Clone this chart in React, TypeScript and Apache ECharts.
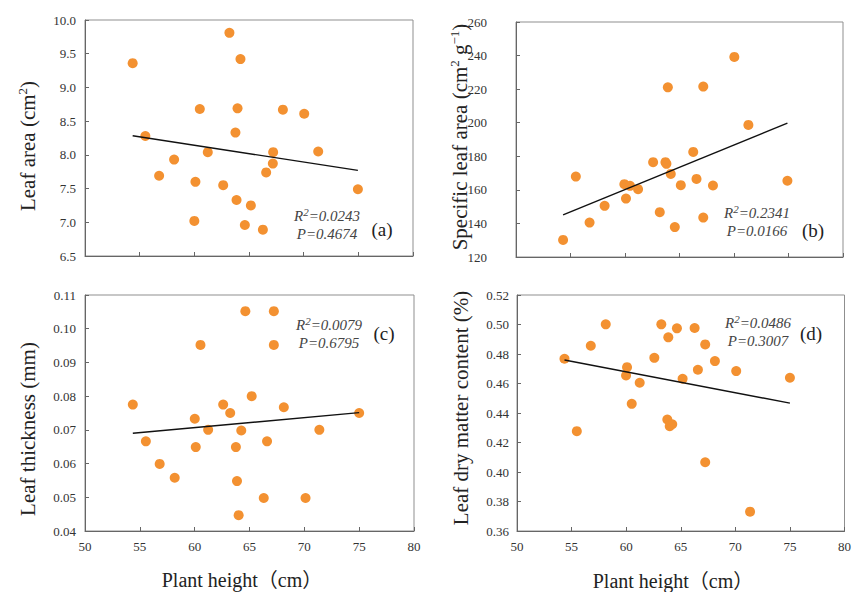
import React, { useEffect, useRef } from "react";
import * as echarts from "echarts";

// Plant height (cm) for each panel
const heightA = [54.36, 55.52, 56.78, 58.15, 60.1, 60.0, 60.5, 61.23, 62.64, 63.21, 63.76, 63.95, 63.86, 64.22, 64.62, 65.17, 66.27, 66.57, 67.18, 67.21, 68.1, 70.05, 71.33, 74.96];
const leafArea = [9.36, 8.28, 7.69, 7.93, 7.6, 7.02, 8.68, 8.04, 7.55, 9.81, 8.33, 8.69, 7.33, 9.42, 6.96, 7.25, 6.89, 7.74, 7.87, 8.04, 8.67, 8.61, 8.05, 7.49];

const heightB = [54.32, 55.49, 56.75, 58.13, 59.94, 60.09, 60.46, 61.2, 62.58, 63.19, 63.71, 63.8, 63.93, 64.2, 64.57, 65.12, 66.26, 66.56, 67.18, 67.18, 68.07, 70.03, 71.32, 74.9];
const specificLeafArea = [130.2, 167.9, 140.5, 150.5, 163.4, 154.8, 162.4, 160.4, 176.5, 146.7, 176.5, 175.5, 221.1, 169.5, 137.8, 162.8, 182.6, 166.5, 221.5, 143.5, 162.6, 239.2, 198.7, 165.4];

const heightC = [54.36, 55.55, 56.81, 58.18, 60.01, 60.1, 60.53, 61.23, 62.6, 63.24, 63.76, 63.86, 64.01, 64.25, 64.62, 65.2, 66.3, 66.6, 67.22, 67.22, 68.13, 70.11, 71.37, 75.0];
const leafThickness = [0.0775, 0.0666, 0.0599, 0.0558, 0.0733, 0.0649, 0.0952, 0.07, 0.0775, 0.075, 0.0649, 0.0548, 0.0447, 0.0698, 0.1052, 0.08, 0.0498, 0.0666, 0.1052, 0.0952, 0.0767, 0.0498, 0.07, 0.075];

const heightD = [54.35, 55.48, 56.76, 58.13, 59.99, 60.08, 60.51, 61.24, 62.58, 63.22, 63.77, 63.86, 63.99, 64.22, 64.65, 65.17, 66.27, 66.57, 67.24, 67.24, 68.13, 70.08, 71.35, 75.0];
const dryMatter = [0.4768, 0.4277, 0.4856, 0.5001, 0.4655, 0.4711, 0.4462, 0.4605, 0.4774, 0.5001, 0.4356, 0.4913, 0.4311, 0.4324, 0.4974, 0.4632, 0.4976, 0.4693, 0.4865, 0.4066, 0.4752, 0.4684, 0.3731, 0.4639];

// Regression line end points [x, y]
const trendA = [[54.36, 8.284], [74.96, 7.77]];
const trendB = [[54.32, 145.1], [74.9, 199.7]];
const trendC = [[54.36, 0.069], [75.0, 0.0751]];
const trendD = [[54.35, 0.4759], [75.0, 0.4467]];

const stats = [
  { r2: "0.0243", p: "0.4674", tag: "(a)" },
  { r2: "0.2341", p: "0.0166", tag: "(b)" },
  { r2: "0.0079", p: "0.6795", tag: "(c)" },
  { r2: "0.0486", p: "0.3007", tag: "(d)" },
];

const yNames = [
  "Leaf area (cm{s|2})",
  "Specific leaf area (cm{s|2} g{s|\u22121})",
  "Leaf thickness (mm)",
  "Leaf dry matter content (%)",
];
const xName = "Plant height\uff08cm\uff09";

const SERIF = "'Liberation Serif', 'Times New Roman', 'Noto Sans CJK SC', serif";

export default function App() {
  const ref = useRef<HTMLDivElement>(null);

  useEffect(() => {
    if (!ref.current) return;
    const chart = echarts.init(ref.current, null, { renderer: "svg" });

    const grids = [
      { left: 85, top: 20, width: 328, height: 236 },
      { left: 516, top: 22, width: 327, height: 235 },
      { left: 85, top: 295, width: 329, height: 236 },
      { left: 517, top: 295, width: 328, height: 236 },
    ].map((g) => ({ ...g, show: true, borderColor: "#8f8f8f", borderWidth: 1, containLabel: false }));

    const yRanges = [
      { min: 6.5, max: 10, interval: 0.5, dec: 1, margin: 9 },
      { min: 120, max: 260, interval: 20, dec: 0, margin: 29 },
      { min: 0.04, max: 0.11, interval: 0.01, dec: 2, margin: 9 },
      { min: 0.36, max: 0.52, interval: 0.02, dec: 2, margin: 8 },
    ];

    const axisLine = { show: true, lineStyle: { color: "#666", width: 1 } };
    const axisTick = { show: true, inside: true, length: 4, lineStyle: { color: "#666" } };
    const labelStyle = { color: "#333", fontFamily: SERIF, fontSize: 13 };

    const xAxis = [0, 1, 2, 3].map((i) => ({
      type: "value",
      gridIndex: i,
      min: 50,
      max: 80,
      interval: 5,
      axisLine,
      axisTick,
      splitLine: { show: false },
      axisLabel: { show: i >= 2, margin: 9, ...labelStyle },
    }));

    const yAxis = yRanges.map((r, i) => ({
      type: "value",
      gridIndex: i,
      min: r.min,
      max: r.max,
      interval: r.interval,
      axisLine,
      axisTick,
      splitLine: { show: false },
      axisLabel: {
        margin: r.margin,
        formatter: (v: number) => v.toFixed(r.dec),
        ...labelStyle,
      },
    }));

    const pts = [
      [heightA, leafArea],
      [heightB, specificLeafArea],
      [heightC, leafThickness],
      [heightD, dryMatter],
    ];
    const trends = [trendA, trendB, trendC, trendD];

    const series: any[] = [];
    pts.forEach(([xs, ys], i) => {
      series.push({
        type: "scatter",
        xAxisIndex: i,
        yAxisIndex: i,
        data: xs.map((x, j) => [x, ys[j]]),
        symbol: "circle",
        symbolSize: 10,
        itemStyle: { color: "#F39131", opacity: 1 },
        z: 2,
      });
      series.push({
        type: "line",
        xAxisIndex: i,
        yAxisIndex: i,
        data: trends[i],
        symbol: "none",
        lineStyle: { color: "#111", width: 1.4 },
        z: 3,
      });
    });

    const supRich = (size: number, color: string, raise: number, italic = false) => ({
      s: {
        fontSize: size,
        fontFamily: SERIF,
        fontStyle: italic ? "italic" : "normal",
        fill: color,
        color,
        verticalAlign: "bottom",
        padding: [0, 0, raise, 0],
      },
    });

    const nameCenters = [
      [28, 146],
      [460, 137],
      [28, 429],
      [461, 408],
    ];

    const graphic: any[] = [];
    yNames.forEach((t, i) => {
      graphic.push({
        type: "text",
        x: nameCenters[i][0],
        y: nameCenters[i][1],
        rotation: Math.PI / 2,
        style: {
          text: t,
          fontFamily: SERIF,
          fontSize: 21,
          fill: "#222",
          align: "center",
          verticalAlign: "middle",
          rich: supRich(13, "#222", 12),
        },
      });
    });

    [
      [242, 580],
      [673, 581],
    ].forEach(([x, y]) => {
      graphic.push({
        type: "text",
        x,
        y,
        style: {
          text: xName,
          fontFamily: SERIF,
          fontSize: 20,
          fill: "#222",
          align: "center",
          verticalAlign: "middle",
        },
      });
    });

    const statPos = [
      { x: 327, yR: 218, yP: 234, tx: 382, ty: 229 },
      { x: 757, yR: 215, yP: 231, tx: 813, ty: 230 },
      { x: 329, yR: 327, yP: 343, tx: 384, ty: 333 },
      { x: 758, yR: 325, yP: 341, tx: 811, ty: 333 },
    ];

    stats.forEach((s, i) => {
      const p = statPos[i];
      graphic.push({
        type: "text",
        x: p.x,
        y: p.yR,
        style: {
          text: `R{s|2}=${s.r2}`,
          fontFamily: SERIF,
          fontSize: 15,
          fontStyle: "italic",
          fill: "#444",
          align: "center",
          verticalAlign: "bottom",
          rich: supRich(11, "#444", 8, true),
        },
        y: p.yR + 7,
      });
      graphic.push({
        type: "text",
        x: p.x,
        y: p.yP,
        style: {
          text: `P=${s.p}`,
          fontFamily: SERIF,
          fontSize: 15,
          fontStyle: "italic",
          fill: "#444",
          align: "center",
          verticalAlign: "middle",
        },
      });
      graphic.push({
        type: "text",
        x: p.tx,
        y: p.ty,
        style: {
          text: s.tag,
          fontFamily: SERIF,
          fontSize: 19,
          fill: "#222",
          align: "center",
          verticalAlign: "middle",
        },
      });
    });

    chart.setOption({
      animation: false,
      backgroundColor: "#fff",
      grid: grids,
      xAxis,
      yAxis,
      series,
      graphic,
    });

    return () => chart.dispose();
  }, []);

  return (
    <div
      ref={ref}
      style={{ position: "absolute", left: 0, top: 0, width: 854, height: 592 }}
    />
  );
}
